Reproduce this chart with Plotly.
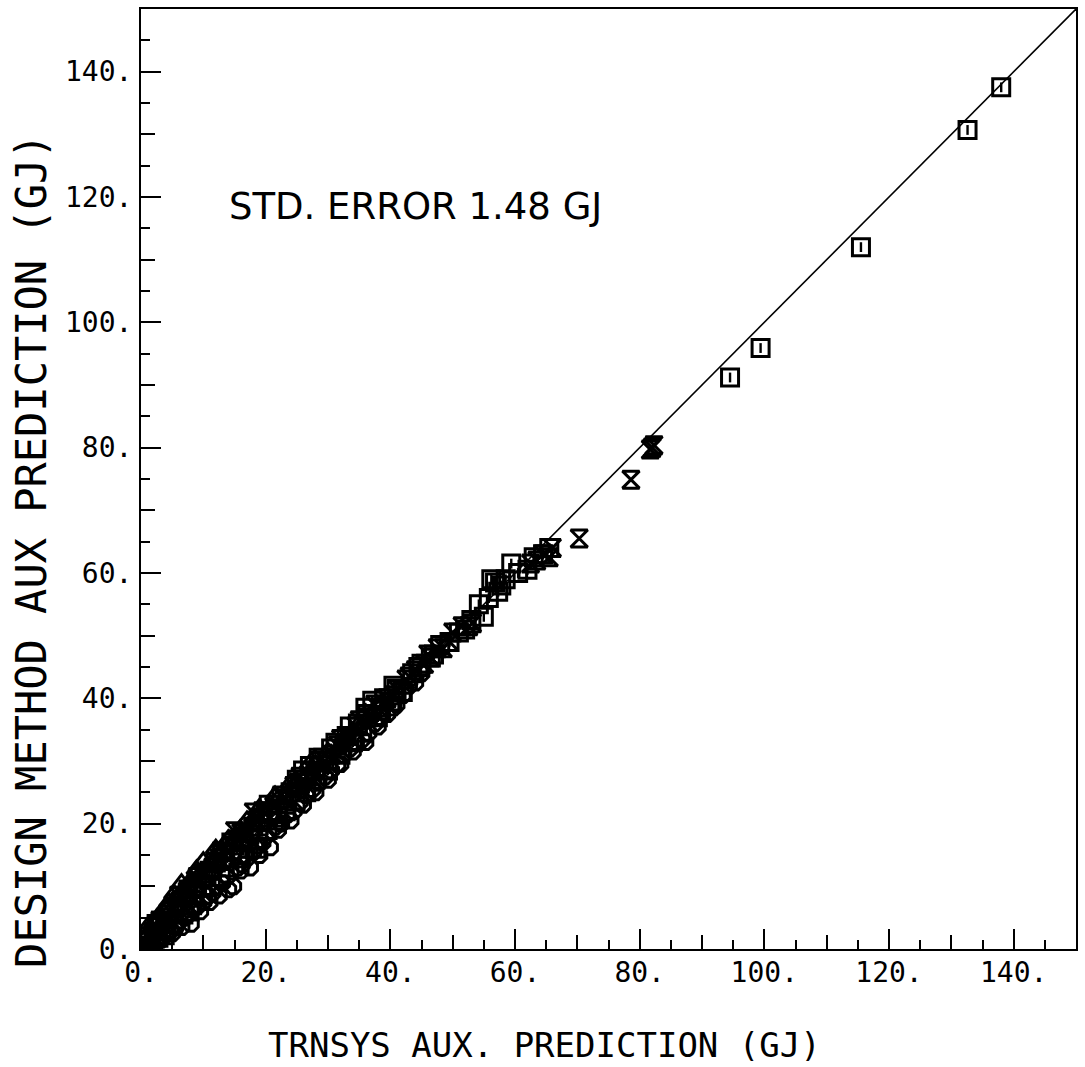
import plotly.graph_objects as go

# ---------------- data ----------------
# squares: (TRNSYS, design method)
square_pts = [
    (0.8, 1.5), (1.5, 0.5), (2.0, 2.8), (2.8, 1.8), (3.2, 4.5), (4.0, 3.0), (4.5, 5.5),
    (5.2, 4.0), (6.0, 7.0), (6.8, 5.5), (7.5, 9.0), (8.2, 7.0), (9.0, 10.0), (9.8, 8.5),
    (10.5, 11.5), (11.2, 10.0), (12.0, 13.8), (12.8, 11.5), (13.5, 14.5), (14.2, 13.0),
    (15.0, 16.5), (15.8, 14.5), (16.5, 17.8), (17.3, 16.0), (18.0, 19.5), (18.8, 17.5),
    (19.5, 21.0), (20.3, 19.0), (21.0, 22.0), (21.8, 20.5), (22.5, 24.0), (23.2, 22.0),
    (24.0, 25.0), (24.8, 23.5), (25.5, 26.5), (26.5, 25.0), (27.1, 29.2), (28.0, 27.0),
    (29.0, 30.0), (30.0, 28.5), (31.2, 32.9), (32.0, 31.0), (33.0, 34.0), (34.0, 33.0),
    (34.8, 36.0), (35.5, 34.5), (36.3, 37.5), (37.1, 39.6), (38.0, 37.0), (39.0, 40.0),
    (40.0, 39.5), (41.0, 41.5), (42.0, 41.0), (43.5, 44.0), (45.0, 45.5), (46.5, 46.5),
    (48.0, 48.5), (49.5, 49.0), (51.0, 50.5), (53.0, 52.5), (54.2, 55.0), (55.0, 53.0),
    (55.8, 56.0), (56.2, 59.0), (56.8, 58.5), (57.3, 57.0), (57.8, 58.0), (59.4, 61.5),
    (60.5, 60.0), (62.0, 60.5), (63.0, 62.5), (64.5, 63.0), (65.5, 64.0),
    (2.5, 4.0), (3.8, 2.2), (6.5, 8.5), (7.8, 6.0), (11.0, 12.5), (13.0, 15.5),
    (16.0, 15.0), (19.0, 20.5), (22.0, 21.0), (25.0, 27.0), (28.5, 30.5), (30.5, 32.0),
    (33.5, 35.5), (36.0, 38.5), (38.5, 38.0), (40.5, 42.0), (44.5, 45.0), (47.0, 47.0),
    (52.0, 51.0), (58.5, 59.0), (14.5, 17.0), (20.5, 23.0), (26.0, 28.5), (18.5, 16.0),
    (94.5, 91.2), (99.4, 95.9), (115.5, 112.0), (132.6, 130.7), (138.0, 137.5),
]

hourglass_pts = [
    (1.0, 2.0), (2.5, 3.5), (3.8, 5.0), (5.0, 6.5), (6.2, 7.5), (7.5, 9.5), (8.8, 10.5),
    (10.0, 12.0), (11.5, 13.0), (12.5, 14.5), (14.0, 15.5), (15.5, 17.5), (17.0, 18.5),
    (18.5, 20.5), (20.0, 21.5), (21.5, 23.0), (23.0, 24.0), (24.5, 26.0), (26.0, 27.0),
    (27.5, 28.5), (29.0, 30.5), (30.5, 31.0), (32.0, 33.5), (33.5, 34.0), (35.0, 36.5),
    (36.5, 37.0), (38.0, 38.5), (39.5, 40.0), (41.0, 41.5), (42.5, 43.0), (44.0, 44.5),
    (45.5, 45.5), (46.5, 46.5), (47.5, 48.0), (48.5, 48.0), (49.5, 49.0), (51.5, 51.5),
    (52.6, 51.5), (53.2, 52.0), (62.5, 61.5), (63.5, 62.0), (64.5, 63.0), (65.5, 62.5),
    (66.0, 64.0),
    (3.0, 4.5), (6.0, 8.5), (9.0, 11.5), (13.0, 15.5), (16.0, 18.5), (19.5, 22.0),
    (22.5, 24.5), (25.5, 27.5), (28.5, 30.0), (31.5, 32.5), (34.5, 35.5), (37.5, 39.0),
    (40.5, 40.5), (43.0, 43.5), (46.0, 47.0), (50.0, 50.5), (15.0, 18.8), (18.0, 21.8),
    (70.3, 65.5), (78.6, 74.9), (82.3, 80.4), (82.0, 80.0), (81.7, 79.7),
]

triangle_pts = [
    (0.5, 1.5), (1.2, 2.5), (2.0, 4.0), (2.8, 4.5), (3.5, 6.0), (4.2, 6.5), (5.3, 8.8),
    (6.0, 8.0), (6.8, 9.5), (7.5, 10.0), (8.9, 12.7), (9.5, 12.0), (10.5, 13.0),
    (11.5, 14.0), (12.5, 15.0), (13.5, 16.5), (14.5, 16.5), (15.9, 19.1), (16.5, 18.5),
    (17.5, 19.5), (18.5, 21.0), (19.5, 21.0), (20.5, 22.5), (22.0, 24.0), (23.5, 25.0),
    (25.0, 26.5), (26.5, 27.5), (28.0, 29.5), (30.0, 31.5), (32.5, 33.5), (35.0, 36.0),
    (38.0, 39.0), (2.5, 3.0), (1.5, 1.0), (4.0, 3.5),
    (1.0, 3.5), (3.0, 5.5), (4.5, 7.5), (6.5, 10.5), (8.0, 11.0), (10.0, 14.0),
    (12.0, 16.0), (14.0, 17.5), (17.0, 20.5), (19.0, 22.5), (21.5, 24.5), (24.0, 26.5),
    (27.0, 29.5),
]

octagon_pts = [
    (0.3, 0.3), (0.8, 0.2), (1.5, 0.8), (2.5, 1.0), (3.2, 1.5), (4.0, 2.5), (4.8, 3.0),
    (5.5, 3.5), (6.2, 4.5), (7.0, 5.0), (8.0, 4.0), (8.5, 6.5), (9.2, 7.0), (10.0, 7.5),
    (10.8, 8.5), (11.5, 9.0), (12.2, 10.0), (13.0, 10.5), (13.8, 11.5), (14.8, 10.0),
    (15.5, 13.0), (16.2, 13.5), (17.0, 14.5), (18.0, 15.5), (18.8, 16.5), (19.5, 17.0),
    (20.7, 16.2), (21.5, 19.5), (22.5, 20.0), (23.5, 21.5), (24.5, 22.0), (25.5, 23.5),
    (26.5, 24.5), (27.5, 25.5), (28.5, 26.5), (29.5, 27.5), (30.5, 28.5), (31.5, 29.5),
    (32.5, 31.0), (33.5, 32.0), (34.5, 33.0), (35.5, 33.5), (36.5, 34.5), (37.5, 36.0),
    (38.5, 37.0), (39.5, 37.5), (40.5, 38.5), (42.0, 40.5), (43.0, 42.0), (45.0, 44.0),
    (2.0, 0.5), (3.5, 2.0), (5.0, 2.5), (6.5, 3.5), (7.5, 5.5), (9.5, 6.0), (11.0, 7.5),
    (12.5, 8.5), (14.0, 9.5), (16.0, 12.5), (17.5, 13.0), (19.0, 15.0), (20.0, 18.0),
    (22.0, 19.0), (24.0, 20.5), (26.0, 23.0), (28.0, 25.0), (30.0, 27.0), (32.0, 29.5),
    (34.0, 31.5), (36.0, 33.0), (38.0, 35.5), (41.0, 39.0), (44.0, 42.5),
]

diag_line = [0, 150]
axis_range = [0, 150]
major_ticks = [0, 20, 40, 60, 80, 100, 120, 140]
major_labels = ["0.", "20.", "40.", "60.", "80.", "100.", "120.", "140."]
medium_ticks = [10, 30, 50, 70, 90, 110, 130]

x_title = "TRNSYS AUX. PREDICTION (GJ)"
y_title = "DESIGN METHOD AUX PREDICTION (GJ)"
std_text = "STD. ERROR 1.48 GJ"

# ---------------- figure ----------------
fig = go.Figure()


def add_pts(pts, symbol, size, width=3.0):
    xs = [p[0] for p in pts]
    ys = [p[1] for p in pts]
    fig.add_trace(go.Scatter(
        x=xs, y=ys, mode="markers", showlegend=False, hoverinfo="skip",
        marker=dict(symbol=symbol, size=size, color="black",
                    line=dict(color="black", width=width)),
    ))


add_pts(octagon_pts, "octagon-open", 16)
add_pts(triangle_pts, "triangle-up-open", 17)
add_pts(hourglass_pts, "hourglass-open", 17)
add_pts(square_pts, "square-open", 17)
add_pts(square_pts, "line-ns-open", 7, 2.4)

fig.add_trace(go.Scatter(
    x=diag_line, y=diag_line, mode="lines", showlegend=False, hoverinfo="skip",
    line=dict(color="black", width=1.6),
))

# invisible trace on the overlay axes so their medium ticks are drawn
fig.add_trace(go.Scatter(
    x=[medium_ticks[0]], y=[medium_ticks[0]], xaxis="x2", yaxis="y2",
    mode="markers", marker=dict(opacity=0), showlegend=False, hoverinfo="skip",
))

tick_font = dict(family="DejaVu Sans Mono", size=28, color="black")

axis_common = dict(
    range=axis_range, showgrid=False, zeroline=False,
    showline=True, linewidth=2, linecolor="black", mirror=True,
    ticks="inside", ticklen=20, tickwidth=2, tickcolor="black",
    tickmode="array", tickvals=major_ticks, ticktext=major_labels,
    tickfont=tick_font,
    minor=dict(ticks="inside", dtick=5, tick0=0, ticklen=9, tickwidth=2,
               tickcolor="black", showgrid=False),
)

overlay_common = dict(
    range=axis_range, showgrid=False, zeroline=False, showline=False,
    ticks="inside", ticklen=14, tickwidth=2, tickcolor="black",
    tickmode="array", tickvals=medium_ticks, showticklabels=False,
)

fig.update_layout(
    width=1085, height=1067,
    margin=dict(l=141, r=8, t=7, b=118),
    paper_bgcolor="white", plot_bgcolor="white",
    xaxis=dict(**axis_common, ticklabelstandoff=-3),
    yaxis=dict(**axis_common, ticklabelstandoff=1),
    xaxis2=dict(**overlay_common, overlaying="x", anchor="y", side="bottom"),
    yaxis2=dict(**overlay_common, overlaying="y", anchor="x", side="left"),
    annotations=[
        dict(text=x_title, xref="paper", yref="paper", x=0.4316, y=-0.1019,
             xanchor="center", yanchor="middle", showarrow=False,
             font=dict(family="DejaVu Sans Mono", size=34, color="black")),
        dict(text=y_title, xref="paper", yref="paper", x=-0.1165, y=0.4236,
             xanchor="center", yanchor="middle", showarrow=False, textangle=-90,
             font=dict(family="DejaVu Sans Mono", size=42, color="black")),
        dict(text=std_text, xref="paper", yref="paper", x=0.0919, y=0.790,
             xanchor="left", yanchor="middle", showarrow=False,
             font=dict(family="DejaVu Sans", size=37, color="black")),
    ],
)

fig.write_html("out.html")
